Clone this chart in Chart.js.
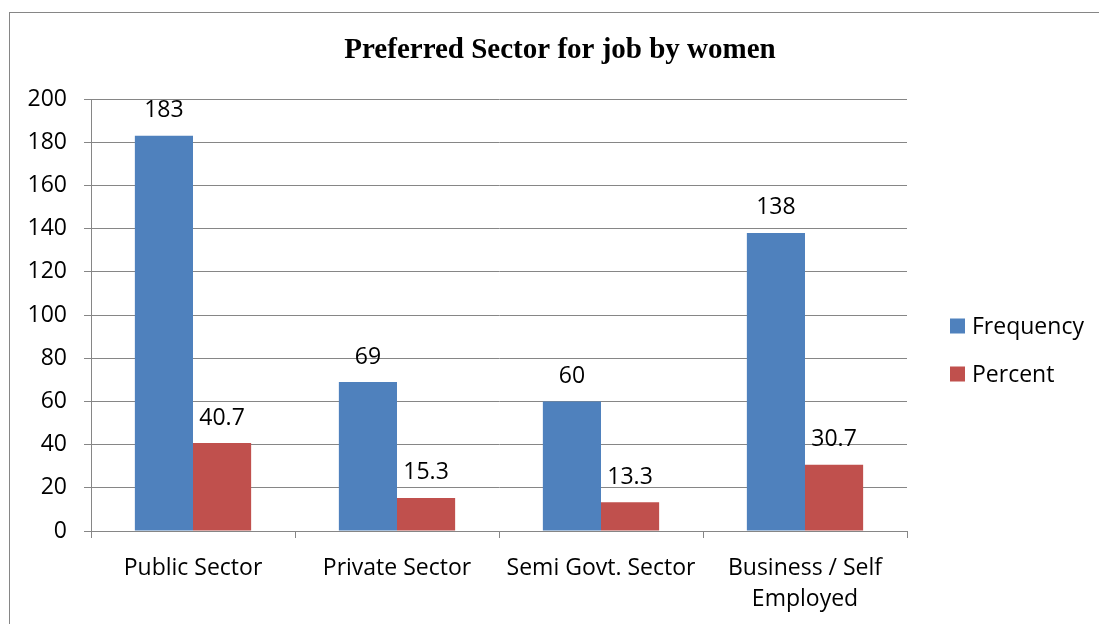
<!DOCTYPE html>
<html>
<head>
<meta charset="utf-8">
<title>Preferred Sector for job by women</title>
<script src="https://cdn.jsdelivr.net/npm/chart.js@4/dist/chart.umd.min.js"></script>
<style>
    html, body { margin: 0; padding: 0; background: #fff; overflow: hidden; }
    .frame {
        position: absolute; left: 9px; top: 12px;
        width: 1200px; height: 700px;
        border: 1px solid #868686;
    }
    #chart { position: absolute; left: 0; top: 0; }
</style>
</head>
<body>
<div class="frame"></div>
<canvas id="chart" width="1099" height="624"></canvas>

<script>
// ── Data ─────────────────────────────────────────────────────
const sectors = ['Public Sector', 'Private Sector', 'Semi Govt. Sector', ['Business / Self', 'Employed']];
const frequency = [183, 69, 60, 138];
const percent = [40.7, 15.3, 13.3, 30.7];
const yTicks = [0, 20, 40, 60, 80, 100, 120, 140, 160, 180, 200];

const chartTitle = 'Preferred Sector for job by women';
const seriesNames = ['Frequency', 'Percent'];
const seriesColors = ['#4F81BD', '#C0504D'];

const FONT = "'Open Sans', sans-serif";
const GRID = '#868686';

// ── Title, value labels and legend drawn on the canvas ───────
const decorations = {
    id: 'decorations',
    afterDatasetsDraw(chart) {
        const ctx = chart.ctx;
        ctx.save();

        // value above each bar
        ctx.font = `23px ${FONT}`;
        ctx.fillStyle = '#000';
        ctx.textAlign = 'center';
        ctx.textBaseline = 'middle';
        chart.data.datasets.forEach((ds, i) => {
            chart.getDatasetMeta(i).data.forEach((bar, j) => {
                ctx.fillText(String(ds.data[j]), bar.x, bar.y - 25);
            });
        });

        // title
        ctx.font = `bold 29px 'Liberation Serif', 'Times New Roman', serif`;
        ctx.textBaseline = 'alphabetic';
        ctx.fillText(chartTitle, 560, 58);

        // legend
        ctx.font = `23px ${FONT}`;
        ctx.textAlign = 'left';
        ctx.textBaseline = 'middle';
        chart.data.datasets.forEach((ds, i) => {
            const cy = 326 + i * 48;
            ctx.fillStyle = ds.backgroundColor;
            ctx.fillRect(950, cy - 7.5, 15, 15);
            ctx.fillStyle = '#000';
            ctx.fillText(ds.label, 972, cy + 1);
        });

        ctx.restore();
    }
};

new Chart(document.getElementById('chart'), {
    type: 'bar',
    data: {
        labels: sectors,
        datasets: seriesNames.map((name, i) => ({
            label: name,
            data: i === 0 ? frequency : percent,
            backgroundColor: seriesColors[i],
            borderWidth: 0,
            categoryPercentage: 0.57,
            barPercentage: 1.0
        }))
    },
    options: {
        responsive: false,
        animation: false,
        layout: { padding: { left: 0, right: 192, top: 99, bottom: 0 } },
        plugins: {
            legend: { display: false },
            title: { display: false },
            tooltip: { enabled: false }
        },
        scales: {
            x: {
                grid: {
                    offset: true,
                    drawOnChartArea: false,
                    drawTicks: true,
                    tickLength: 7,
                    color: GRID
                },
                border: { color: GRID },
                ticks: {
                    color: '#000',
                    font: { family: FONT, size: 23, lineHeight: 1.35 },
                    padding: 15,
                    maxRotation: 0,
                    autoSkip: false
                },
                afterFit(scale) { scale.height = 93; }
            },
            y: {
                min: 0,
                max: 200,
                afterBuildTicks(scale) { scale.ticks = yTicks.map(v => ({ value: v })); },
                grid: { color: GRID, tickLength: 7 },
                border: { color: GRID },
                ticks: {
                    color: '#000',
                    font: { family: FONT, size: 23 },
                    padding: 17
                },
                afterFit(scale) { scale.width = 91; }
            }
        }
    },
    plugins: [decorations]
});
</script>
</body>
</html>
